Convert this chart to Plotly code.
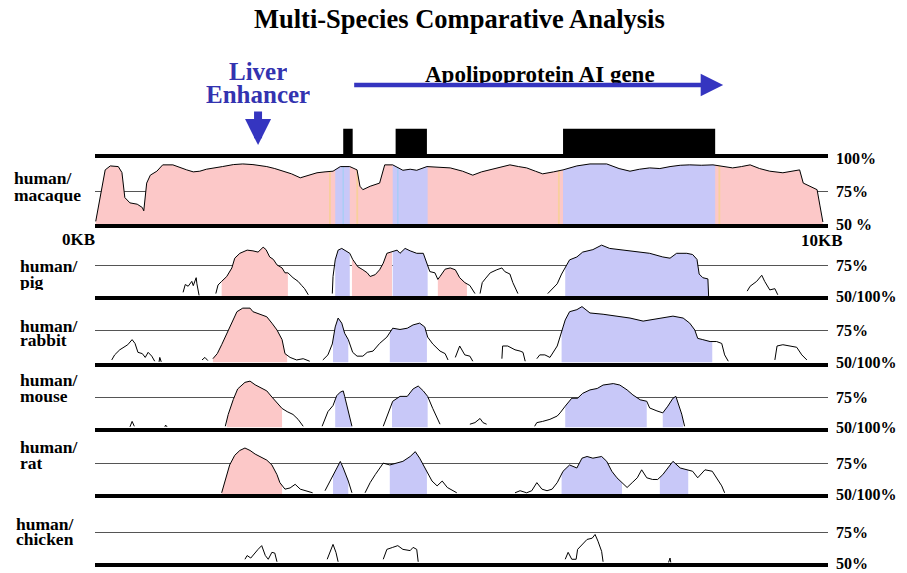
import numpy as np
import plotly.graph_objects as go

# ---------------- data (position in kb, identity in %) ----------------
mac_kb = [0.01, 0.07, 0.14, 0.21, 0.32, 0.37, 0.41, 0.48, 0.58, 0.65,
          0.67, 0.71, 0.76, 0.85, 0.93, 1.07, 1.15, 1.26, 1.35, 1.44,
          1.53, 1.62, 1.75, 1.90, 2.03, 2.17, 2.27, 2.36, 2.47, 2.58,
          2.70, 2.82, 2.93, 3.05, 3.16, 3.27, 3.37, 3.50, 3.60, 3.64,
          3.68, 3.78, 3.91, 3.98, 4.09, 4.23, 4.33, 4.42, 4.56, 4.72,
          4.88, 5.05, 5.19, 5.31, 5.43, 5.56, 5.70, 5.82, 5.93, 6.05,
          6.15, 6.30, 6.43, 6.62, 6.80, 7.03, 7.20, 7.35, 7.48, 7.62,
          7.76, 7.90, 8.04, 8.17, 8.33, 8.49, 8.62, 8.76, 8.88, 9.00,
          9.13, 9.27, 9.45, 9.60, 9.68, 9.73, 9.82, 9.92, 9.96, 10.0]
mac_pct = [52, 69, 91, 94, 93.5, 89, 70, 66, 65, 62.5,
           60, 81, 87, 90, 94.8, 94.8, 93, 91, 89.5, 90,
           91.5, 92.5, 93.5, 95, 95.5, 95, 94.5, 93.5, 92, 90,
           88, 85, 87, 88.8, 89.5, 90, 93.5, 93.5, 91, 78.6,
           76, 78.6, 81, 94.8, 94.8, 90.7, 91.5, 90.7, 93.5, 93,
           92.5, 90, 87, 89.5, 91, 93, 94.8, 93.5, 92.5, 90,
           88, 89.5, 91, 94, 95.5, 95.5, 92, 90, 91.5, 92.5,
           92, 93.5, 94.5, 94.8, 94.5, 94.8, 93.5, 92.5, 93.5, 94.8,
           92, 90, 88.8, 90, 91, 81, 78.6, 76, 63.7, 51.5]

pig_kb = [1.21, 1.24, 1.28, 1.33, 1.35, 1.39, 1.40, 1.43, None,
          1.66, 1.69, 1.74, 1.81, 1.88, 1.92, 1.99, 2.09, 2.17, 2.24, 2.31, 2.35, 2.40, 2.45, 2.50, 2.57,
          2.61, 2.65, 2.72, 2.79, 2.84, 2.88, 2.93, None,
          3.26, 3.27, 3.30, 3.34, 3.39, 3.46, 3.50, 3.54, 3.61, 3.68, 3.74, 3.78, 3.85, 3.91, 3.96, 4.01,
          4.08, 4.15, 4.19, 4.26, 4.33, 4.42, 4.51, 4.56, 4.60, 4.67, 4.71, 4.74, 4.81, 4.88, 4.95, 5.01,
          5.08, 5.15, 5.22, None,
          5.29, 5.32, 5.36, 5.43, 5.52, 5.59, 5.63, 5.70, 5.74, 5.81, None,
          6.22, 6.28, 6.35, 6.41, 6.46, 6.52, 6.62, 6.70, 6.84, 6.96, 7.07, 7.25, 7.45, 7.62, 7.80, 7.90,
          7.99, 8.13, 8.21, 8.27, 8.30, 8.35, 8.42, 8.43, None,
          8.96, 9.00, 9.09, 9.16, 9.20, 9.27, 9.34, 9.38]
pig_pct = [53, 59.4, 58, 62, 58.5, 65, 60, 50.5, None,
           52, 59, 62, 66, 73, 81, 85, 87.6, 87, 86, 90, 88, 82, 80, 75.5, 73,
           69, 69, 65, 62, 58.6, 56, 51, None,
           52, 66, 79.6, 87.6, 89, 86, 85, 80, 74, 71.5, 69, 66, 67.5, 71.5, 76.9, 85,
           86, 87.6, 85, 89, 87, 85, 85, 77, 70, 69, 63.6, 66, 72, 73, 71.5, 65,
           61, 58.6, 52, None,
           52, 61, 64, 69, 71.5, 73, 70, 68, 61, 52, None,
           52, 56, 60, 68, 73, 79.6, 82, 86, 88, 91.7, 89, 87.6, 86, 85, 82, 81,
           85, 85, 84, 80, 68, 65, 64, 50, None,
           54, 58, 62, 67, 62, 55, 56, 51]

rabbit_kb = [0.23, 0.27, 0.34, 0.41, 0.45, 0.51, 0.55, 0.59, 0.65, 0.69, 0.73, 0.78, 0.82, None,
             0.88, 0.89, 0.91, None,
             1.47, 1.51, 1.55, None,
             1.62, 1.68, 1.74, 1.81, 1.88, 1.95, 2.03, 2.13, 2.17, 2.27, 2.36, 2.43, 2.50, 2.57,
             2.61, 2.68, 2.77, 2.86, 2.95, None,
             3.13, 3.20, 3.26, 3.30, 3.34, 3.39, 3.43, 3.48, 3.54, 3.60, 3.68, 3.74, 3.82, 3.91,
             4.01, 4.09, 4.19, 4.29, 4.37, 4.46, 4.53, 4.57, 4.64, 4.74, 4.81, 4.85, None,
             4.95, 5.01, 5.08, 5.15, 5.19, None,
             5.59, 5.60, 5.67, 5.77, 5.84, 5.88, 5.91, None,
             6.07, 6.11, 6.18, 6.25, 6.35, 6.41, 6.46, 6.52, 6.62, 6.69, 6.80, 6.98, 7.17, 7.35,
             7.53, 7.66, 7.80, 7.94, 8.08, 8.17, 8.24, 8.28, 8.35, 8.45, 8.54, 8.61, 8.65, 8.70, None,
             9.34, 9.37, 9.45, 9.55, 9.64, 9.71, 9.78]
rabbit_pct = [52, 56, 60, 63, 64, 68, 65, 58, 57, 54, 58, 55, 51, None,
              50.5, 54, 50.5, None,
              52, 54, 51.5, None,
              53, 57, 64, 73, 82, 90, 92.8, 92.8, 90, 88, 86, 81, 75.6, 68,
              57, 54, 52, 53, 51, None,
              52, 56, 64.6, 78, 85, 81, 73, 68, 58, 55, 55, 58, 59, 65,
              70, 77, 76, 77, 79.6, 81, 78, 70, 64.6, 59, 57, 52, None,
              54, 63, 56, 55, 51, None,
              53, 63, 63, 60, 59, 58, 51, None,
              53, 56, 56, 54, 63, 73.5, 83.5, 90, 91.6, 94, 89, 88, 86.5, 85,
              82.6, 84, 85, 86.5, 85, 81, 75.6, 69, 68, 66.5, 66.5, 65, 56, 51, None,
              52, 63, 64, 63, 62, 56, 52]

mouse_kb = [0.48, 0.51, 0.54, None, 0.96, 0.97, 0.99, None,
            1.79, 1.83, 1.90, 1.96, 2.06, 2.13, 2.20, 2.27, 2.36, 2.43, 2.50, 2.57, 2.64, 2.72, 2.79, 2.86, None,
            3.12, 3.20, 3.27, 3.32, 3.37, 3.41, 3.43, 3.48, 3.53, None,
            3.96, 4.02, 4.09, 4.19, 4.29, 4.37, 4.44, 4.51, 4.57, 4.64, 4.74, None,
            5.15, 5.22, 5.29, 5.33, 5.38, None,
            6.04, 6.07, 6.15, 6.25, 6.35, 6.39, 6.46, 6.55, 6.63, 6.70, 6.80, 6.90, 6.98, 7.12,
            7.21, 7.31, 7.39, 7.49, 7.58, 7.62, 7.72, 7.80, 7.87, 7.94, 7.98, 8.01, 8.06, 8.10]
mouse_pct = [50.5, 55, 51, None, 50.5, 52, 50.5, None,
             51, 60.7, 73, 81.6, 87, 88, 85, 82.6, 80, 75, 70, 65.6, 63, 60.7, 56.7, 51, None,
             51, 63, 68, 76, 79, 80, 75.5, 63, 51, None,
             51, 60.7, 71.5, 75.5, 75.5, 81.6, 84, 80, 75.5, 65.6, 52.7, None,
             52.7, 54, 57.4, 54, 52.7, None,
             51, 54, 55, 56.7, 59.4, 62, 67.5, 74, 74, 78, 80.8, 82, 84.8, 86,
             84.8, 80.8, 76.7, 72.7, 71.5, 66, 63.6, 62, 67.5, 74, 75.5, 70, 61, 51]

rat_kb = [1.74, 1.79, 1.85, 1.92, 1.99, 2.06, 2.13, 2.20, 2.27, 2.36, 2.43, 2.50, 2.54, 2.61, 2.68,
          2.75, 2.82, 2.91, 2.99, None,
          3.16, 3.23, 3.30, 3.37, 3.41, 3.48, 3.53, None,
          3.71, 3.78, 3.85, 3.96, 4.05, 4.15, 4.23, 4.33, 4.40, 4.46, 4.56, 4.63, 4.70, 4.77, 4.84,
          4.88, 4.97, None,
          5.77, 5.84, 5.93, 6.00, 6.07, 6.14, 6.21, 6.28, 6.35, 6.43, 6.52, 6.62, 6.69, 6.76, 6.84,
          6.96, 7.03, 7.10, 7.17, 7.24, 7.31, 7.38, 7.45, 7.51, 7.58, 7.66, 7.73, 7.80, 7.87, 7.94,
          8.04, 8.13, 8.21, 8.28, 8.38, 8.48, 8.54, 8.61, 8.65]
rat_pct = [51, 62, 74, 82, 86, 88, 86, 83, 80.6, 78, 74, 66, 59.4, 54, 55,
           58, 54, 52.7, 51, None,
           52.7, 60.7, 68.8, 76.9, 71.5, 60.7, 51, None,
           51, 59.4, 66, 75.5, 74, 75.5, 77, 81, 85, 79.6, 68.8, 60.7, 56.7, 60.7, 55.4,
           54, 51, None,
           51, 52.7, 51, 52.7, 59.4, 54, 52.7, 54, 59.4, 68.8, 74, 71.5, 79.6, 81, 79.6,
           81, 77, 68.8, 63.4, 59.4, 55.4, 59.4, 63.4, 70, 63.4, 62, 62, 66, 71.5, 77,
           71.5, 70, 68.8, 63.4, 70, 68.8, 63.4, 56.7, 51]

chicken_kb = [2.06, 2.09, 2.14, 2.20, 2.24, 2.29, 2.34, 2.38, 2.43, 2.47, 2.50, None,
              3.19, 3.23, 3.27, 3.31, 3.34, None,
              3.96, 4.01, 4.09, 4.16, 4.23, 4.33, 4.37, 4.42, 4.44, None,
              6.46, 6.50, 6.55, 6.61, 6.63, 6.70, 6.76, 6.83, 6.87, 6.91, 6.96, 6.98, None,
              7.88, 7.90, 7.91]
chicken_pct = [53, 56, 54, 58.6, 61, 64, 56, 53, 58.6, 58, 51, None,
               53, 58.6, 65, 58.6, 51, None,
               53, 61, 62.6, 64, 61, 60, 62.6, 61, 51, None,
               53, 58.6, 53, 53, 61, 65, 69, 70, 73, 67.6, 59.4, 51, None,
               50.5, 54, 50.5]

# conserved non-coding (pink), exon (blue) and UTR edge regions, kb
mac_cns = [(0.01, 10.0)]
mac_exon = [(3.30, 3.50), (4.09, 4.57), (6.43, 8.52)]
mac_utr_orange = [(3.215, 3.24), (3.59, 3.615), (6.36, 6.385), (8.565, 8.59)]
mac_utr_lblue = [(3.40, 3.42), (4.15, 4.17)]
pig_cns = [(1.74, 2.65), (3.53, 4.08), (4.71, 5.11)]
pig_exon = [(3.30, 3.50), (4.09, 4.57), (6.46, 8.43)]
rabbit_cns = [(1.62, 2.64)]
rabbit_exon = [(3.27, 3.48), (4.05, 4.56), (6.41, 8.48)]
mouse_cns = [(1.81, 2.57)]
mouse_exon = [(3.30, 3.53), (4.08, 4.57), (6.46, 7.58), (7.80, 8.08)]
rat_cns = [(1.74, 2.57)]
rat_exon = [(3.27, 3.48), (4.05, 4.56), (6.41, 7.24), (7.76, 8.15)]
chicken_cns = []
chicken_exon = []

# gene structure (kb)
exon_start = [3.41, 4.13, 6.43]
exon_end = [3.54, 4.56, 8.52]
gene_start, gene_end = 3.54, 8.63
enhancer_kb = 2.24

species = ["macaque", "pig", "rabbit", "mouse", "rat", "chicken"]
curves = {"macaque": (mac_kb, mac_pct), "pig": (pig_kb, pig_pct), "rabbit": (rabbit_kb, rabbit_pct),
          "mouse": (mouse_kb, mouse_pct), "rat": (rat_kb, rat_pct), "chicken": (chicken_kb, chicken_pct)}
cns = {"macaque": mac_cns, "pig": pig_cns, "rabbit": rabbit_cns, "mouse": mouse_cns,
       "rat": rat_cns, "chicken": chicken_cns}
exons = {"macaque": mac_exon, "pig": pig_exon, "rabbit": rabbit_exon, "mouse": mouse_exon,
         "rat": rat_exon, "chicken": chicken_exon}
right_ticks = {"macaque": ([50, 75, 100], ["50 %", "75%", "100%"]),
               "chicken": ([50, 75], ["50%", "75%"])}

# ---------------- layout geometry (pixels) ----------------
W, H = 907, 573
X0, X1 = 95, 828
XMAX = 10.07
# (pixel y of 50%, pixel y of 100%) per panel
panel_px = [(224, 158), (296, 235), (362.5, 299), (427.5, 366.5), (494, 433.5), (563, 501)]
left_lab = [(12, 178, 195), (18, 266, 282), (18, 326, 340), (18, 380, 396), (18, 447, 463), (14, 524, 539)]

PINK = "#fcc8c8"
BLUE = "#c8c8f8"
ORANGE = "#f8cf9c"
LBLUE = "#a9cdf5"
ARROW = "#3535c0"
SERIF = "Liberation Serif, Times New Roman, serif"


def py(p):
    return 1 - p / H


def segments(xs, ys):
    segs, cur = [], []
    for x, y in zip(xs, ys):
        if x is None or y is None:
            if cur:
                segs.append(cur)
            cur = []
        else:
            cur.append((x, y))
    if cur:
        segs.append(cur)
    return segs


def region_poly(xs, ys, a, b):
    best, ov = None, 0
    for s in segments(xs, ys):
        o = min(b, s[-1][0]) - max(a, s[0][0])
        if o > ov:
            best, ov = s, o
    sx = np.array([p[0] for p in best])
    sy = np.array([p[1] for p in best])
    a, b = max(a, sx[0]), min(b, sx[-1])
    inner = (sx > a) & (sx < b)
    px = [a] + list(sx[inner]) + [b]
    pyv = [float(np.interp(a, sx, sy))] + list(sy[inner]) + [float(np.interp(b, sx, sy))]
    return px + [b, a, a], pyv + [50, 50, pyv[0]]


def add_fill(xs, ys, regions, color, xn, yn):
    for (a, b) in regions:
        fx, fy = region_poly(xs, ys, a, b)
        fig.add_trace(go.Scatter(x=fx, y=fy, xaxis=xn, yaxis=yn, mode="lines", fill="toself",
                                 fillcolor=color, line=dict(width=0), hoverinfo="skip"))


fig = go.Figure()
layout = dict(template="none", width=W, height=H, margin=dict(l=0, r=0, t=0, b=0, pad=0),
              autosize=False, paper_bgcolor="white", plot_bgcolor="white", showlegend=False)

for i, sp in enumerate(species):
    xn = "x" if i == 0 else f"x{i+1}"
    yn = "y" if i == 0 else f"y{i+1}"
    xs, ys = curves[sp]
    add_fill(xs, ys, cns[sp], PINK, xn, yn)
    add_fill(xs, ys, exons[sp], BLUE, xn, yn)
    if sp == "macaque":
        add_fill(xs, ys, mac_utr_orange, ORANGE, xn, yn)
        add_fill(xs, ys, mac_utr_lblue, LBLUE, xn, yn)
    fig.add_trace(go.Scatter(x=xs, y=ys, xaxis=xn, yaxis=yn, mode="lines",
                             line=dict(color="black", width=1), connectgaps=False))

    p50, p100 = panel_px[i]
    tv, tt = right_ticks.get(sp, ([50, 75], ["50/100%", "75%"]))
    xa = dict(domain=[X0 / W, X1 / W], range=[0, XMAX], showline=True, linecolor="black",
              linewidth=4 if i == 0 else 3.5, mirror=(i == 0), showticklabels=False, ticks="",
              showgrid=False, zeroline=False, anchor=yn, automargin=False)
    if i > 0:
        xa["matches"] = "x"
    ya = dict(domain=[py(p50), py(p100)], range=[50, 100], side="right", anchor=xn,
              tickvals=tv, ticktext=tt, ticks="", showgrid=True, gridcolor="#555555", gridwidth=1,
              zeroline=False, showline=False, ticklabelstandoff=7, automargin=False,
              tickfont=dict(family=SERIF, size=16, color="black", weight="bold"))
    layout["xaxis" if i == 0 else f"xaxis{i+1}"] = xa
    layout["yaxis" if i == 0 else f"yaxis{i+1}"] = ya

# gene track (exon boxes)
ex_c = [(s + e) / 2 for s, e in zip(exon_start, exon_end)]
ex_w = [e - s for s, e in zip(exon_start, exon_end)]
fig.add_trace(go.Bar(x=ex_c, y=[1] * len(ex_c), width=ex_w, base=0, xaxis="x", yaxis="y7",
                     marker=dict(color="black", line=dict(width=0)), hoverinfo="skip"))
layout["yaxis7"] = dict(domain=[py(156.5), py(128.5)], range=[0, 1], visible=False, anchor="x",
                        automargin=False)


def label(text, x, y, xref="paper", size=18, color="black", xanchor="center", height=None):
    d = dict(text=text, x=x, y=y, xref=xref, yref="paper", showarrow=False,
             xanchor=xanchor, yanchor="middle",
             font=dict(family=SERIF, size=size, color=color))
    if height:
        d["height"] = height
    return d


ann = []
ann.append(label("<b>Multi-Species Comparative Analysis</b>", 459 / W, py(19), size=26.5))
ann.append(label("<b>Apolipoprotein AI gene</b>", (gene_start + gene_end) / 2 + 0.03, py(75),
                 xref="x", size=23))
ann.append(dict(text="", x=gene_end, y=py(85), xref="x", yref="paper", ax=gene_start, ay=0,
                axref="x", ayref="pixel", showarrow=True, arrowhead=2, arrowsize=1.0,
                arrowwidth=4.5, arrowcolor=ARROW, standoff=0))
ann.append(label("<b>Liver</b>", enhancer_kb, py(71), xref="x", size=25, color="#3333b0", height=22))
ann.append(label("<b>Enhancer</b>", enhancer_kb, py(94), xref="x", size=25, color="#3333b0", height=22))
ann.append(dict(text="", x=enhancer_kb, y=py(145), xref="x", yref="paper", ax=0, ay=-35,
                axref="pixel", ayref="pixel", showarrow=True, arrowhead=2, arrowsize=0.65,
                arrowwidth=8, arrowcolor=ARROW, standoff=0))
ann.append(label("<b>0KB</b>", 0.03, py(239), xref="x", size=17, xanchor="right"))
ann.append(label("<b>10KB</b>", 9.99, py(240), xref="x", size=17))
for sp, (lx, y1, y2) in zip(species, left_lab):
    ann.append(label("<b>human/</b>", lx / W, py(y1), size=17.5, xanchor="left", height=16))
    ann.append(label(f"<b>{sp}</b>", lx / W, py(y2), size=17.5, xanchor="left", height=16))

layout["annotations"] = ann
fig.update_layout(**layout)
fig.write_html("out.html", config={"displayModeBar": False},
               post_script="document.body.style.margin='0px';document.body.style.padding='0px';")
